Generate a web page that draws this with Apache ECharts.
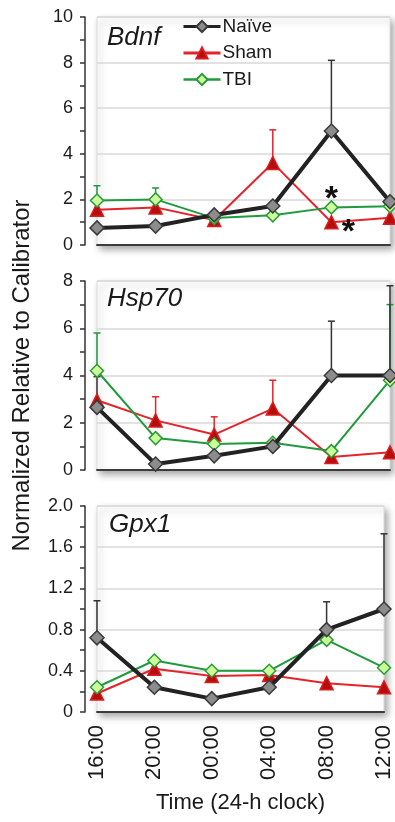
<!DOCTYPE html>
<html>
<head>
<meta charset="utf-8">
<script src="https://cdn.jsdelivr.net/npm/echarts@6/dist/echarts.min.js"></script>
<style>
html,body{margin:0;padding:0;background:#fff;}
#chart{width:395px;height:822px;}
</style>
</head>
<body>
<div id="chart"></div>
<script>
const categories = ['16:00','20:00','00:00','04:00','08:00','12:00'];
const seriesNames = ['Naïve','Sham','TBI'];

const bdnfNaive = [0.75, 0.83, 1.32, 1.71, 5.0, 1.9];
const bdnfSham  = [1.55, 1.65, 1.1, 3.6, 1.0, 1.2];
const bdnfTBI   = [1.95, 2.0, 1.18, 1.3, 1.65, 1.7];
const bdnfNaiveErr = [null, null, null, null, 3.1, null];
const bdnfShamErr  = [null, null, null, 1.45, null, null];
const bdnfTBIErr   = [0.65, 0.5, null, null, null, null];

const hspNaive = [2.65, 0.25, 0.6, 1.0, 4.0, 4.0];
const hspSham  = [2.95, 2.1, 1.5, 2.6, 0.55, 0.75];
const hspTBI   = [4.2, 1.35, 1.1, 1.15, 0.8, 3.8];
const hspNaiveErr = [1.3, null, null, null, 2.3, 3.8];
const hspShamErr  = [null, 1.0, 0.75, 1.2, null, null];
const hspTBIErr   = [1.6, null, null, null, null, 3.2];

const gpxNaive = [0.72, 0.24, 0.13, 0.24, 0.8, 1.0];
const gpxSham  = [0.18, 0.42, 0.35, 0.36, 0.28, 0.24];
const gpxTBI   = [0.24, 0.5, 0.4, 0.4, 0.7, 0.43];
const gpxNaiveErr = [0.36, null, null, null, 0.27, 0.73];
const gpxShamErr  = [null, null, null, null, null, null];
const gpxTBIErr   = [null, null, null, null, null, null];

const geneNames = ['Bdnf','Hsp70','Gpx1'];
const yMax = [10, 8, 2.0];
const yInterval = [2, 2, 0.4];

const FONT = '"Liberation Sans", Arial, Helvetica, sans-serif';
const colors = {
  'Naïve': {line:'#222222', width:4, legendWidth:3, symbol:'diamond', size:14, fill:'#8c8c8c', border:'#3a3a3a', err:'#333333'},
  'Sham':  {line:'#e3242b', width:2, legendWidth:3, symbol:'triangle', size:13, fill:'#b80d0d', border:'#d81e1e', err:'#e3242b'},
  'TBI':   {line:'#1f9a3c', width:2, legendWidth:2.5, symbol:'diamond', size:13, fill:'#ccff99', border:'#2c9a3c', err:'#1f9a3c'}
};

const panels = [
  {means:{'Naïve':bdnfNaive,'Sham':bdnfSham,'TBI':bdnfTBI}, errs:{'Naïve':bdnfNaiveErr,'Sham':bdnfShamErr,'TBI':bdnfTBIErr}},
  {means:{'Naïve':hspNaive,'Sham':hspSham,'TBI':hspTBI}, errs:{'Naïve':hspNaiveErr,'Sham':hspShamErr,'TBI':hspTBIErr}},
  {means:{'Naïve':gpxNaive,'Sham':gpxSham,'TBI':gpxTBI}, errs:{'Naïve':gpxNaiveErr,'Sham':gpxShamErr,'TBI':gpxTBIErr}}
];

const gridPos = [
  {top:17, height:228},
  {top:281, height:189},
  {top:506, height:206}
];

const grids = gridPos.map(g => ({
  left:97, right:5, top:g.top, height:g.height, show:true,
  backgroundColor:'#ffffff', borderColor:'#dedede', borderWidth:1,
  shadowColor:'rgba(0,0,0,0.35)', shadowBlur:7, shadowOffsetX:3, shadowOffsetY:4,
  containLabel:false
}));

const xAxes = gridPos.map((g,i) => ({
  type:'category', gridIndex:i, data:categories, boundaryGap:false,
  axisLine:{show:true, lineStyle:{color:'#3c3c3c', width:2}},
  axisTick:{show:false},
  axisLabel:{show:i===2, rotate:90, fontSize:22, color:'#1a1a1a', fontFamily:FONT, margin:13},
  splitLine:{show:false},
  name: i===2 ? 'Time (24-h clock)' : '',
  nameLocation:'middle', nameGap:80,
  nameTextStyle:{fontSize:22, color:'#1a1a1a', fontFamily:FONT}
}));

const yAxes = gridPos.map((g,i) => ({
  type:'value', gridIndex:i, min:0, max:yMax[i], interval:yInterval[i], offset:12,
  axisLine:{show:true, lineStyle:{color:'#333', width:1.5}},
  axisTick:{show:true, length:5, lineStyle:{color:'#333', width:1.5}},
  minorTick:{show:true, splitNumber:2, length:5, lineStyle:{color:'#333', width:1.5}},
  axisLabel:{fontSize:18, color:'#1a1a1a', fontFamily:FONT, margin:12,
    formatter: v => (i===2 ? (v===0 ? '0' : v.toFixed(1)) : String(v))},
  splitLine:{show:true, lineStyle:{color:'#d9d9d9', width:1.5}},
  name: i===1 ? 'Normalized Relative to Calibrator' : '',
  nameLocation:'middle', nameGap:51,
  nameTextStyle:{fontSize:24, color:'#1a1a1a', fontFamily:FONT}
}));

const series = [];
const drawOrder = ['Sham','TBI','Naïve'];
panels.forEach((p, pi) => {
  drawOrder.forEach(name => {
    const c = colors[name];
    const s = {
      type:'line', name:name, xAxisIndex:pi, yAxisIndex:pi, z:2 + drawOrder.indexOf(name),
      data:p.means[name], symbol:c.symbol, symbolSize:c.size, showAllSymbol:true,
      lineStyle:{color:c.line, width:c.width},
      itemStyle:{color:c.fill, borderColor:c.border, borderWidth:1.5},
      emphasis:{disabled:true}, animation:false
    };
    if (pi === 0 && name === 'TBI') {
      s.markPoint = {symbol:'circle', symbolSize:1, itemStyle:{color:'rgba(0,0,0,0)'},
        label:{show:true, formatter:'*', fontSize:34, fontWeight:'bold', color:'#111', fontFamily:FONT, offset:[0,-8]},
        data:[{coord:[categories[4], bdnfTBI[4]]}]};
    }
    if (pi === 0 && name === 'Sham') {
      s.markPoint = {symbol:'circle', symbolSize:1, itemStyle:{color:'rgba(0,0,0,0)'},
        label:{show:true, formatter:'*', fontSize:34, fontWeight:'bold', color:'#111', fontFamily:FONT, offset:[17,10]},
        data:[{coord:[categories[4], bdnfSham[4]]}]};
    }
    series.push(s);
  });
  drawOrder.forEach(name => {
    const c = colors[name];
    const data = [];
    p.errs[name].forEach((e, k) => {
      if (e !== null) data.push([k, p.means[name][k], p.means[name][k] + e]);
    });
    series.push({
      type:'custom', name: name + ' error', xAxisIndex:pi, yAxisIndex:pi, z:1,
      data:data, silent:true,
      renderItem: function(params, api) {
        const lo = api.coord([api.value(0), api.value(1)]);
        const hi = api.coord([api.value(0), api.value(2)]);
        const cap = 3.5;
        const st = {stroke:c.err, lineWidth:1.5};
        return {type:'group', children:[
          {type:'line', shape:{x1:lo[0], y1:lo[1], x2:hi[0], y2:hi[1]}, style:st},
          {type:'line', shape:{x1:hi[0]-cap, y1:hi[1], x2:hi[0]+cap, y2:hi[1]}, style:st}
        ]};
      }
    });
  });
});

const titles = [
  {text:geneNames[0], left:107, top:25},
  {text:geneNames[1], left:107, top:286},
  {text:geneNames[2], left:109, top:512}
].map(t => ({text:t.text, left:t.left, top:t.top, padding:0,
  textStyle:{fontSize:26, fontStyle:'italic', fontWeight:'normal', color:'#1a1a1a', fontFamily:FONT}}));

const chart = echarts.init(document.getElementById('chart'), null, {renderer:'canvas'});
chart.setOption({
  animation:false,
  backgroundColor:'#ffffff',
  title:titles,
  legend:{
    data:seriesNames.map(n => ({name:n, lineStyle:{width:colors[n].legendWidth, color:colors[n].line}})),
    orient:'vertical', left:182, top:17, padding:0,
    itemWidth:37, itemHeight:14, itemGap:7.5,
    textStyle:{fontSize:19, color:'#1a1a1a', fontFamily:FONT, padding:[0,0,0,-3]},
    selectedMode:false
  },
  grid:grids,
  xAxis:xAxes,
  yAxis:yAxes,
  series:series
});
</script>
</body>
</html>
